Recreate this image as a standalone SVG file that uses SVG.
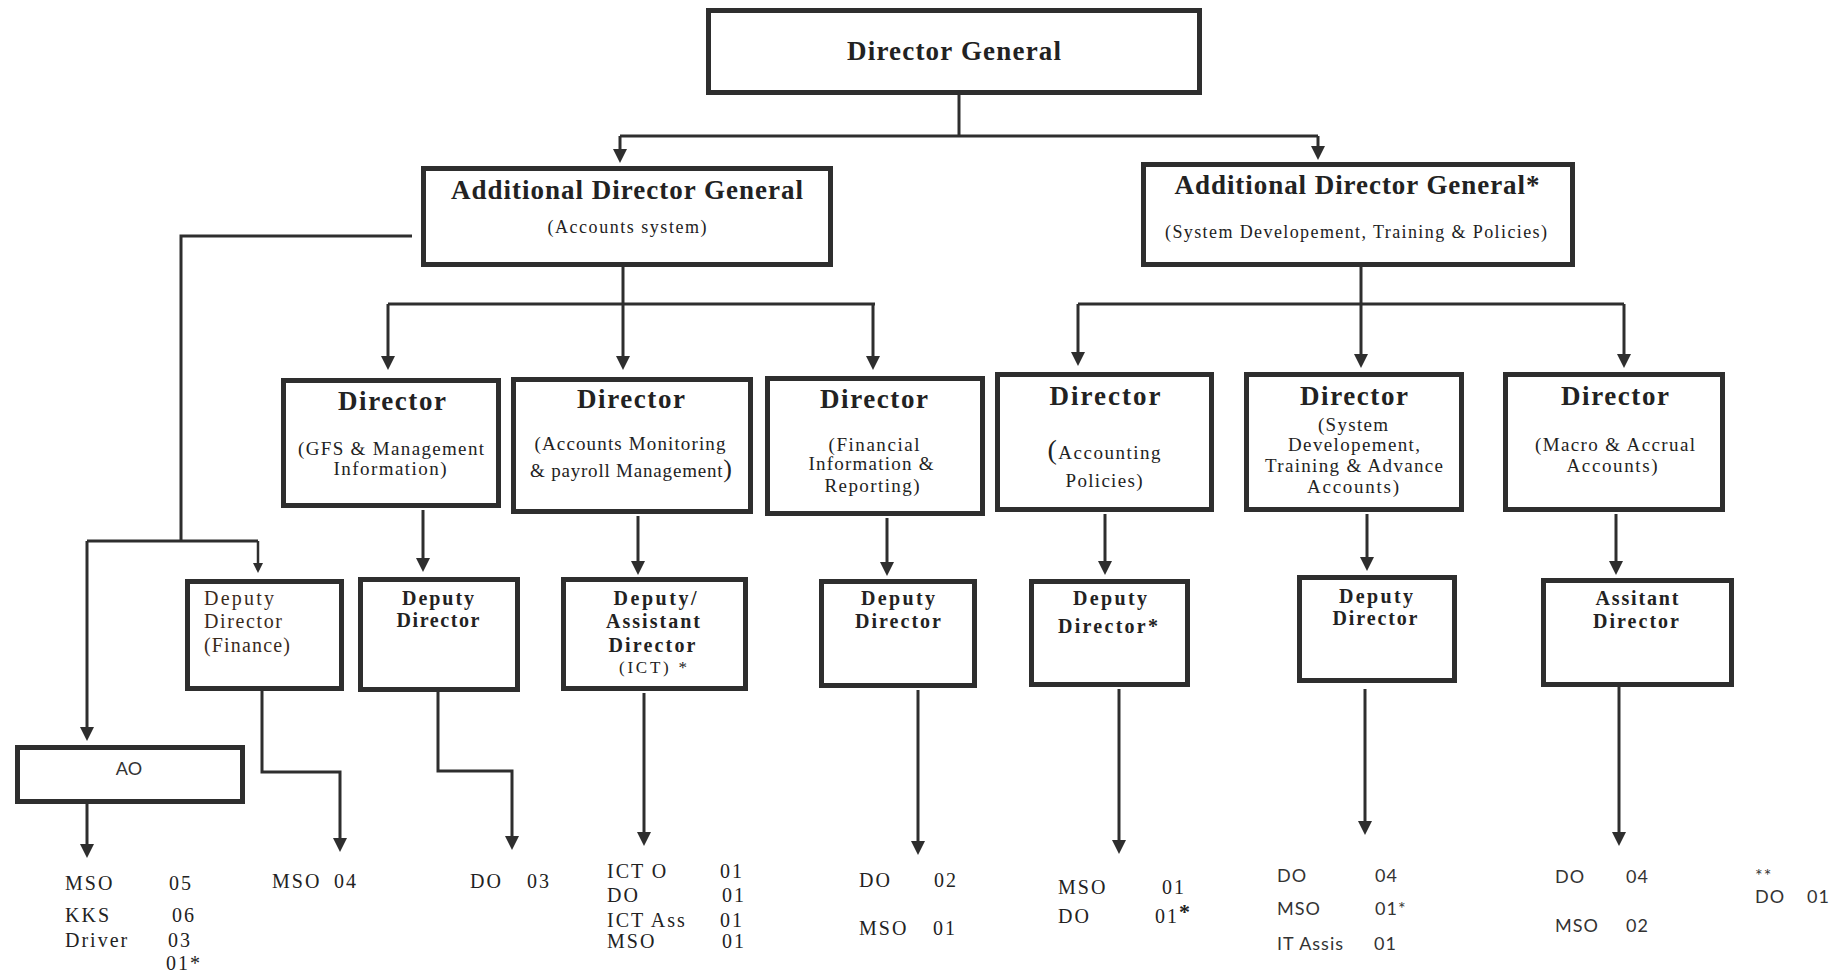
<svg xmlns="http://www.w3.org/2000/svg" width="1845" height="974" viewBox="0 0 1845 974">
<style>
.box{fill:#fff;stroke:#2e2e2e;stroke-width:5}
.ln{fill:none;stroke:#2e2e2e;stroke-width:3}
.ln2{fill:none;stroke:#2e2e2e;stroke-width:2.5}
.hb{font-family:"Liberation Serif",serif;font-weight:bold;fill:#222;text-anchor:middle}
.sr{font-family:"Liberation Serif",serif;fill:#222;text-anchor:middle}
.br{font-family:"Liberation Serif",serif;fill:#3a2a1c;font-size:20px}
.lb{font-family:"Liberation Serif",serif;fill:#222;font-size:20px;letter-spacing:2px}
.ls{font-family:Lato,"Liberation Sans",sans-serif;fill:#333;font-size:18px;letter-spacing:1px}
</style>
<defs>
<marker id="ah" viewBox="0 0 14 14" markerWidth="14" markerHeight="14" refX="10" refY="7" orient="auto" markerUnits="userSpaceOnUse"><path d="M0,0 L14,7 L0,14 z" fill="#2e2e2e"/></marker>
<marker id="as" viewBox="0 0 10 10" markerWidth="10" markerHeight="10" refX="7" refY="5" orient="auto" markerUnits="userSpaceOnUse"><path d="M0,0 L10,5 L0,10 z" fill="#2e2e2e"/></marker>
</defs>
<rect width="1845" height="974" fill="#fff"/>

<g id="connectors">
<path class="ln" d="M959,94 V136"/>
<path class="ln" d="M620,136 H1318"/>
<path class="ln" d="M620,136 V159" marker-end="url(#ah)"/>
<path class="ln" d="M1318,136 V156" marker-end="url(#ah)"/>
<path class="ln" d="M412,236 H181 V541"/>
<path class="ln" d="M87,541 H258"/>
<path class="ln" d="M87,541 V737" marker-end="url(#ah)"/>
<path class="ln2" d="M258,541 V570" marker-end="url(#as)"/>
<path class="ln" d="M623,267 V304"/>
<path class="ln" d="M388,304 H875"/>
<path class="ln" d="M388,304 V366" marker-end="url(#ah)"/>
<path class="ln" d="M623,304 V366" marker-end="url(#ah)"/>
<path class="ln" d="M873,304 V366" marker-end="url(#ah)"/>
<path class="ln" d="M1361,267 V304"/>
<path class="ln" d="M1078,304 H1624"/>
<path class="ln" d="M1078,304 V362" marker-end="url(#ah)"/>
<path class="ln" d="M1361,304 V364" marker-end="url(#ah)"/>
<path class="ln" d="M1624,304 V364" marker-end="url(#ah)"/>
<path class="ln" d="M423,510 V568" marker-end="url(#ah)"/>
<path class="ln" d="M638,516 V571" marker-end="url(#ah)"/>
<path class="ln" d="M887,518 V572" marker-end="url(#ah)"/>
<path class="ln" d="M1105,514 V571" marker-end="url(#ah)"/>
<path class="ln" d="M1367,514 V567" marker-end="url(#ah)"/>
<path class="ln" d="M1616,514 V571" marker-end="url(#ah)"/>
<path class="ln" d="M87,804 V854" marker-end="url(#ah)"/>
<path class="ln" d="M262,691 V772 H340 V848" marker-end="url(#ah)"/>
<path class="ln" d="M438,692 V771 H512 V846" marker-end="url(#ah)"/>
<path class="ln" d="M644,693 V842" marker-end="url(#ah)"/>
<path class="ln" d="M918,690 V851" marker-end="url(#ah)"/>
<path class="ln" d="M1119,689 V850" marker-end="url(#ah)"/>
<path class="ln" d="M1365,689 V831" marker-end="url(#ah)"/>
<path class="ln" d="M1619,680 V842" marker-end="url(#ah)"/>
</g>

<g id="dg">
<rect class="box" x="708.5" y="10.5" width="491" height="82"/>
<text class="hb" x="954" y="60" font-size="27" textLength="214">Director General</text>
</g>

<g id="adg1">
<rect class="box" x="423.5" y="168.5" width="407" height="96"/>
<text class="hb" x="627" y="199" font-size="27" textLength="352">Additional Director General</text>
<text class="sr" x="627" y="233" font-size="18" textLength="159">(Accounts system)</text>
</g>

<g id="adg2">
<rect class="box" x="1143.5" y="164.5" width="429" height="100"/>
<text class="hb" x="1357" y="194" font-size="27" textLength="365">Additional Director General*</text>
<text class="sr" x="1356" y="238" font-size="18" textLength="382">(System Developement, Training &amp; Policies)</text>
</g>

<g id="dir-gfs">
<rect class="box" x="283.5" y="380.5" width="215" height="125"/>
<text class="hb" x="392" y="410" font-size="27" textLength="108">Director</text>
<text class="sr" x="391" y="455" font-size="19" textLength="186">(GFS &amp; Management</text>
<text class="sr" x="390" y="475" font-size="19" textLength="113">Information)</text>
</g>

<g id="dir-acm">
<rect class="box" x="513.5" y="379.5" width="237" height="132"/>
<text class="hb" x="631" y="408" font-size="27" textLength="108">Director</text>
<text class="sr" x="630" y="450" font-size="19" textLength="191">(Accounts Monitoring</text>
<text class="sr" x="631" y="477" font-size="19" textLength="202">&amp; payroll Management<tspan font-size="26">)</tspan></text>
</g>

<g id="dir-fir">
<rect class="box" x="767.5" y="378.5" width="215" height="135"/>
<text class="hb" x="874" y="408" font-size="27" textLength="108">Director</text>
<text class="sr" x="874" y="451" font-size="19" textLength="91">(Financial</text>
<text class="sr" x="871" y="470" font-size="19" textLength="125">Information &amp;</text>
<text class="sr" x="872" y="492" font-size="19" textLength="95">Reporting)</text>
</g>

<g id="dir-ap">
<rect class="box" x="997.5" y="374.5" width="214" height="135"/>
<text class="hb" x="1105" y="405" font-size="27" textLength="111">Director</text>
<text class="sr" x="1104" y="459" font-size="19" textLength="113"><tspan font-size="28">(</tspan>Accounting</text>
<text class="sr" x="1104" y="487" font-size="19" textLength="77">Policies)</text>
</g>

<g id="dir-sd">
<rect class="box" x="1246.5" y="374.5" width="215" height="135"/>
<text class="hb" x="1354" y="405" font-size="27" textLength="108">Director</text>
<text class="sr" x="1353" y="431" font-size="19" textLength="70">(System</text>
<text class="sr" x="1354" y="451" font-size="19" textLength="132">Developement,</text>
<text class="sr" x="1354" y="472" font-size="19" textLength="178">Training &amp; Advance</text>
<text class="sr" x="1353" y="493" font-size="19" textLength="92">Accounts)</text>
</g>

<g id="dir-ma">
<rect class="box" x="1505.5" y="374.5" width="217" height="135"/>
<text class="hb" x="1615" y="405" font-size="27" textLength="108">Director</text>
<text class="sr" x="1615" y="451" font-size="19" textLength="160">(Macro &amp; Accrual</text>
<text class="sr" x="1612" y="472" font-size="19" textLength="91">Accounts)</text>
</g>

<g id="dd-fin">
<rect class="box" x="187.5" y="581.5" width="154" height="107"/>
<text class="br" x="204" y="605" textLength="70">Deputy</text>
<text class="br" x="204" y="628" textLength="78">Director</text>
<text class="br" x="204" y="652" textLength="86">(Finance)</text>
</g>

<g id="dd-gfs">
<rect class="box" x="360.5" y="579.5" width="157" height="110"/>
<text class="hb" x="438" y="605" font-size="20" textLength="72">Deputy</text>
<text class="hb" x="438" y="627" font-size="20" textLength="83">Director</text>
</g>

<g id="dd-ict">
<rect class="box" x="563.5" y="579.5" width="182" height="109"/>
<text class="hb" x="655" y="605" font-size="20" textLength="83">Deputy/</text>
<text class="hb" x="653" y="628" font-size="20" textLength="94">Assistant</text>
<text class="hb" x="652" y="652" font-size="20" textLength="87">Director</text>
<text class="sr" x="653" y="673" font-size="17" textLength="68">(ICT) *</text>
</g>

<g id="dd-fir">
<rect class="box" x="821.5" y="581.5" width="153" height="104"/>
<text class="hb" x="898" y="605" font-size="20" textLength="74">Deputy</text>
<text class="hb" x="898" y="628" font-size="20" textLength="86">Director</text>
</g>

<g id="dd-ap">
<rect class="box" x="1031.5" y="581.5" width="156" height="103"/>
<text class="hb" x="1110" y="605" font-size="20" textLength="74">Deputy</text>
<text class="hb" x="1108" y="633" font-size="20" textLength="100">Director*</text>
</g>

<g id="dd-sd">
<rect class="box" x="1299.5" y="577.5" width="155" height="103"/>
<text class="hb" x="1376" y="603" font-size="20" textLength="74">Deputy</text>
<text class="hb" x="1375" y="625" font-size="20" textLength="85">Director</text>
</g>

<g id="ad-ma">
<rect class="box" x="1543.5" y="580.5" width="188" height="104"/>
<text class="hb" x="1637" y="605" font-size="20" textLength="83">Assitant</text>
<text class="hb" x="1636" y="628" font-size="20" textLength="86">Director</text>
</g>

<g id="ao">
<rect class="box" x="17.5" y="747.5" width="225" height="54"/>
<text x="129" y="775" font-family="Lato, 'Liberation Sans', sans-serif" font-size="18" fill="#333" text-anchor="middle">AO</text>
</g>

<g id="staff-ao">
<text class="lb" x="65" y="890">MSO</text><text class="lb" x="169" y="890">05</text>
<text class="lb" x="65" y="922">KKS</text><text class="lb" x="172" y="922">06</text>
<text class="lb" x="65" y="947">Driver</text><text class="lb" x="168" y="947">03</text>
<text class="lb" x="166" y="970">01*</text>
</g>
<g id="staff-fin">
<text class="lb" x="272" y="888">MSO</text><text class="lb" x="334" y="888">04</text>
</g>
<g id="staff-gfs">
<text class="lb" x="470" y="888">DO</text><text class="lb" x="527" y="888">03</text>
</g>
<g id="staff-ict">
<text class="lb" x="607" y="878">ICT O</text><text class="lb" x="720" y="878">01</text>
<text class="lb" x="607" y="902">DO</text><text class="lb" x="722" y="902">01</text>
<text class="lb" x="607" y="927">ICT Ass</text><text class="lb" x="720" y="927">01</text>
<text class="lb" x="607" y="948">MSO</text><text class="lb" x="722" y="948">01</text>
</g>
<g id="staff-fir">
<text class="lb" x="859" y="887">DO</text><text class="lb" x="934" y="887">02</text>
<text class="lb" x="859" y="935">MSO</text><text class="lb" x="933" y="935">01</text>
</g>
<g id="staff-ap">
<text class="lb" x="1058" y="894">MSO</text><text class="lb" x="1162" y="894">01</text>
<text class="lb" x="1058" y="923">DO</text><text class="lb" x="1155" y="923">01<tspan font-weight="bold" font-size="22" dy="-4">*</tspan></text>
</g>
<g id="staff-sd">
<text class="ls" x="1277" y="882">DO</text><text class="ls" x="1375" y="882">04</text>
<text class="ls" x="1277" y="915">MSO</text><text class="ls" x="1375" y="915">01*</text>
<text class="ls" x="1277" y="950">IT Assis</text><text class="ls" x="1374" y="950">01</text>
</g>
<g id="staff-ma">
<text class="ls" x="1555" y="883">DO</text><text class="ls" x="1626" y="883">04</text>
<text class="ls" x="1555" y="932">MSO</text><text class="ls" x="1626" y="932">02</text>
</g>
<g id="staff-extra">
<text class="ls" x="1755" y="882">**</text>
<text class="ls" x="1755" y="903">DO</text><text class="ls" x="1807" y="903">01</text>
</g>
</svg>
